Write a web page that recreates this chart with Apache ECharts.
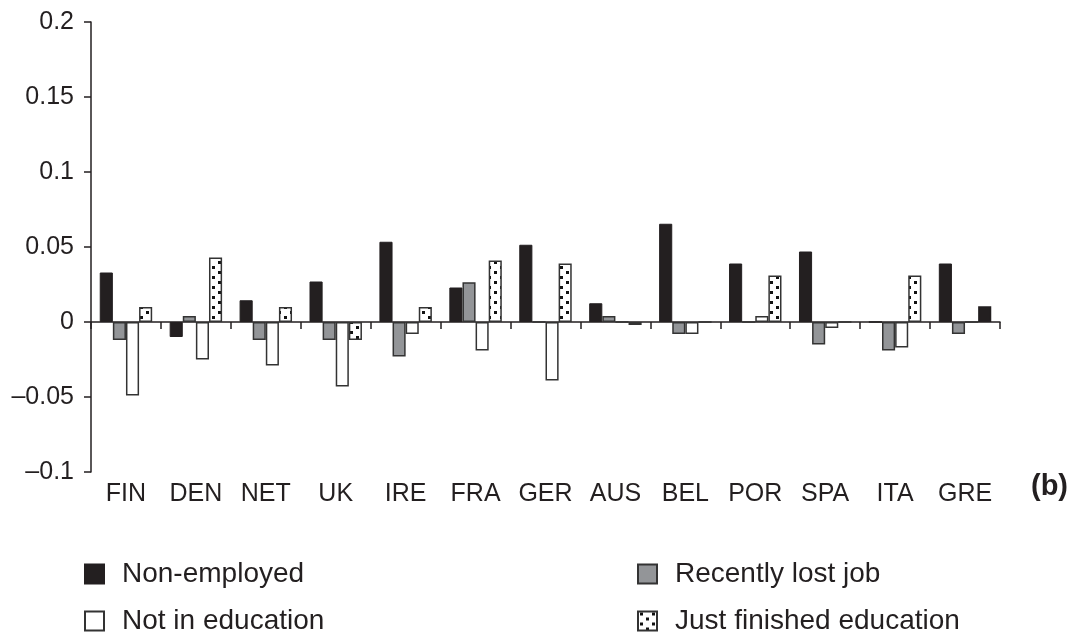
<!DOCTYPE html>
<html>
<head>
<meta charset="utf-8">
<script src="https://cdn.jsdelivr.net/npm/echarts@6/dist/echarts.min.js"></script>
<style>
html,body{margin:0;padding:0;background:#fff;}
#chart{width:1076px;height:635px;}
</style>
</head>
<body>
<div id="chart"></div>
<script>
const categories = ['FIN','DEN','NET','UK','IRE','FRA','GER','AUS','BEL','POR','SPA','ITA','GRE'];
const nonEmployed     = [0.033, -0.010, 0.0145, 0.027, 0.0535, 0.023, 0.0515, 0.0125, 0.0655, 0.039, 0.047, 0, 0.039];
const recentlyLostJob = [-0.012, 0.004, -0.012, -0.012, -0.023, 0.0265, 0, 0.004, -0.008, 0, -0.015, -0.019, -0.008];
const notInEducation  = [-0.049, -0.025, -0.029, -0.043, -0.008, -0.019, -0.039, 0, -0.008, 0.004, -0.004, -0.017, 0];
const justFinished    = [0.010, 0.043, 0.010, -0.012, 0.010, 0.041, 0.039, -0.002, 0, 0.031, 0, 0.031, 0.0105];
const seriesNames = ['Non-employed','Recently lost job','Not in education','Just finished education'];
const yTicks = { min: -0.1, max: 0.2, interval: 0.05 };
const panelLabel = '(b)';
const solidInDottedSlot = ['GRE'];

const FONT = '"Liberation Sans", Arial, Helvetica, sans-serif';
const DARK = '#231f20';

// dotted pattern
const pc = document.createElement('canvas');
pc.width = 12; pc.height = 10;
const pctx = pc.getContext('2d');
pctx.fillStyle = '#fff'; pctx.fillRect(0,0,12,10);
pctx.fillStyle = '#111';
pctx.fillRect(2,1,3,3);
pctx.fillRect(8,6,3,3);
const dotted = { image: pc, repeat: 'repeat' };

const chart = echarts.init(document.getElementById('chart'), null, {renderer:'canvas'});

const base = { type:'bar', xAxisIndex:0, yAxisIndex:0, barGap:'0%', barCategoryGap:'25%', animation:false };

const legendPos = [ [84, 560], [637, 560], [84, 607], [637, 607] ];
const legends = seriesNames.map((n, i) => ({
  data:[n], left:legendPos[i][0], top:legendPos[i][1], padding:0,
  icon:'rect', itemWidth:19, itemHeight:19, selectedMode:false,
  textStyle:{ fontFamily:FONT, fontSize:28, color:DARK, padding:[0,0,0,13] }
}));

const option = {
  animation:false,
  backgroundColor:'#fff',
  grid:{ left:91, right:76, top:22, bottom:163, containLabel:false },
  xAxis:[
    { type:'category', data:categories, position:'bottom',
      axisLine:{ onZero:true, lineStyle:{ color:DARK, width:1.5 } },
      axisTick:{ show:true, inside:false, length:7, lineStyle:{ color:DARK, width:1.5 } },
      axisLabel:{ show:false }, splitLine:{show:false} },
    { type:'category', data:categories, position:'bottom',
      axisLine:{ show:false, onZero:false }, axisTick:{ show:false },
      axisLabel:{ show:true, interval:0, margin:10, fontFamily:FONT, fontSize:25, color:DARK } }
  ],
  yAxis:{ type:'value', min:yTicks.min, max:yTicks.max, interval:yTicks.interval,
    axisLine:{ show:true, lineStyle:{ color:DARK, width:1.5 } },
    axisTick:{ show:true, length:7, lineStyle:{ color:DARK, width:1.5 } },
    splitLine:{ show:false },
    axisLabel:{ margin:17, fontFamily:FONT, fontSize:25, color:DARK,
      formatter: v => (v < 0 ? '\u2013' : '') + String(+Math.abs(v).toFixed(2)) } },
  legend: legends,
  graphic:[
    { type:'text', left:1031, top:472, style:{ text:panelLabel, font:'bold 29px ' + FONT, fill:DARK } }
  ],
  series:[
    Object.assign({}, base, { name:seriesNames[0], data:nonEmployed,
      itemStyle:{ color:DARK, borderColor:DARK, borderWidth:1 } }),
    Object.assign({}, base, { name:seriesNames[1], data:recentlyLostJob,
      itemStyle:{ color:'#939598', borderColor:'#333', borderWidth:1.5 } }),
    Object.assign({}, base, { name:seriesNames[2], data:notInEducation,
      itemStyle:{ color:'#ffffff', borderColor:'#333', borderWidth:1.5 } }),
    Object.assign({}, base, { name:seriesNames[3],
      data: justFinished.map((v,i) => solidInDottedSlot.includes(categories[i])
        ? { value:v, itemStyle:{ color:DARK, borderColor:DARK } } : v),
      itemStyle:{ color:dotted, borderColor:'#333', borderWidth:1.5 } })
  ]
};
chart.setOption(option);
</script>
</body>
</html>
